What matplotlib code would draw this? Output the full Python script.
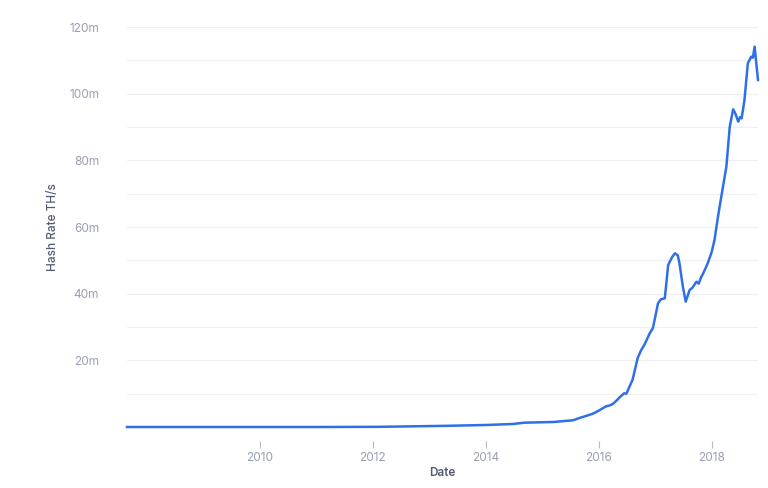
import matplotlib.pyplot as plt
from matplotlib.ticker import FixedLocator, FuncFormatter

plt.rcParams['font.family'] = ['Inter', 'DejaVu Sans']

# Hash rate (millions TH/s), by decimal year
years = [2007.65, 2009.0, 2011.0, 2012.1, 2013.3, 2014.0, 2014.48, 2014.69, 2015.19,
         2015.54, 2015.66, 2015.9, 2016.0, 2016.13, 2016.2, 2016.25, 2016.32, 2016.37,
         2016.45, 2016.49, 2016.6, 2016.69, 2016.75, 2016.81, 2016.9, 2016.96, 2017.05,
         2017.1, 2017.17, 2017.23, 2017.3, 2017.35, 2017.4, 2017.43, 2017.49, 2017.54,
         2017.61, 2017.66, 2017.73, 2017.77, 2017.81, 2017.85, 2017.93, 2018.0, 2018.05,
         2018.12, 2018.2, 2018.26, 2018.32, 2018.38, 2018.42, 2018.47, 2018.5, 2018.53,
         2018.58, 2018.64, 2018.7, 2018.73, 2018.76, 2018.82]
hash_rate = [0.0, 0.0, 0.0, 0.05, 0.35, 0.6, 0.9, 1.3, 1.5,
             2.0, 2.7, 4.0, 4.9, 6.2, 6.5, 6.9, 8.0, 8.9,
             10.1, 10.0, 14.2, 20.7, 23.0, 24.7, 28.0, 29.7, 37.1,
             38.3, 38.6, 48.6, 51.0, 52.1, 51.5, 49.1, 42.1, 37.6,
             41.1, 41.8, 43.6, 43.0, 44.8, 46.1, 49.1, 52.5, 56.1,
             64.0, 72.1, 78.1, 90.1, 95.3, 94.0, 91.6, 92.9, 92.6,
             98.0, 109.1, 111.1, 110.8, 114.1, 104.1]

x_ticks = [2010, 2012, 2014, 2016, 2018]
y_labeled = [20, 40, 60, 80, 100, 120]

fig = plt.figure(figsize=(7.68, 4.88), dpi=100)
ax = fig.add_axes([127 / 768, 61 / 488, 631 / 768, 400 / 488])

ax.plot(years, hash_rate, color='#2f6fe9', linewidth=1.8, clip_on=False, zorder=3)

ax.set_xlim(years[0], years[-1])
ax.set_ylim(0, 120)

# faint grid every 10m, labels every 20m
for v in range(0, 121, 10):
    ax.axhline(v, color='#eef0f4', linewidth=0.9, zorder=1)
ax.yaxis.set_major_locator(FixedLocator(y_labeled))
ax.yaxis.set_major_formatter(FuncFormatter(lambda v, p: f'{int(v)}m'))
ax.tick_params(axis='y', length=0, pad=20, labelsize=8.5, labelcolor='#9a9eb3')

ax.xaxis.set_major_locator(FixedLocator(x_ticks))
ax.xaxis.set_major_formatter(FuncFormatter(lambda v, p: f'{int(v)}'))
ax.spines['bottom'].set_position(('outward', 10))
ax.tick_params(axis='x', length=5, width=0.8, color='#b5b9c8', pad=3,
               labelsize=8.5, labelcolor='#9a9eb3')

for s in ax.spines.values():
    s.set_visible(False)

ax.set_xlabel('Date', fontsize=8.5, color='#555a73', fontweight='semibold', labelpad=2)
ax.set_ylabel('Hash Rate TH/s', fontsize=8.5, color='#555a73', fontweight='medium', labelpad=7)

fig.savefig('out.png', dpi=100)
